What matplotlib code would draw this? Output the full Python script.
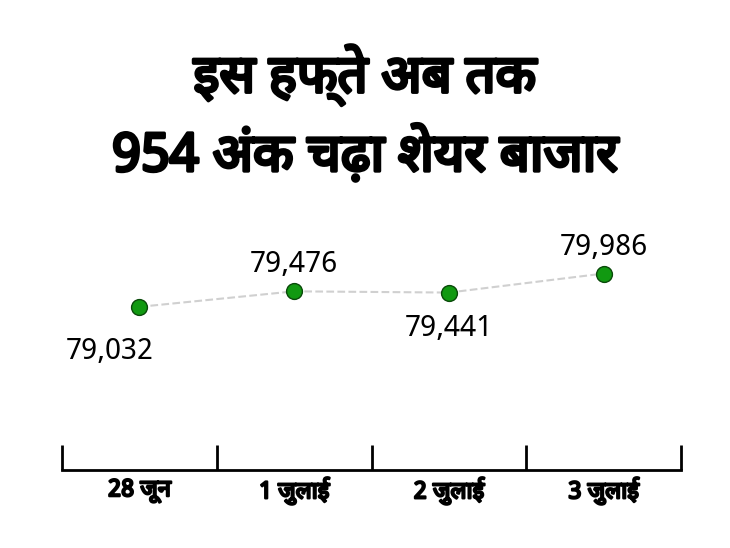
import matplotlib
matplotlib.use("Agg")
import matplotlib.pyplot as plt
import matplotlib.patheffects as pe

plt.rcParams['font.family'] = ['Noto Sans Devanagari', 'Lohit Devanagari', 'Noto Sans', 'DejaVu Sans']

title_lines = ["इस हफ्ते अब तक", "954 अंक चढ़ा शेयर बाजार"]
days = ["28 जून", "1 जुलाई", "2 जुलाई", "3 जुलाई"]
values = [79032, 79476, 79441, 79986]
labels = ["79,032", "79,476", "79,441", "79,986"]
label_above = [False, True, False, True]

bold = [pe.withStroke(linewidth=1.6, foreground='black')]

fig = plt.figure(figsize=(7.3, 5.48), dpi=100)
fig.text(0.5, 1 - 75 / 548, title_lines[0], ha='center', va='center', fontsize=38,
         path_effects=[pe.withStroke(linewidth=2.5, foreground='black')])
fig.text(0.5, 1 - 155 / 548, title_lines[1], ha='center', va='center', fontsize=38,
         path_effects=[pe.withStroke(linewidth=2.5, foreground='black')])

ax = fig.add_axes([0.085, 0.142, 0.848, 0.46])
x = list(range(len(values)))
ax.plot(x, values, color='#d0d0d0', linestyle='--', linewidth=1.5, zorder=1)
ax.scatter(x, values, s=130, color='#119911', edgecolor='#0a4a0a', linewidth=1, zorder=2)

for i, (xi, v, lab, up) in enumerate(zip(x, values, labels, label_above)):
    dx = -21 if i == 0 else 0
    dy = 19 if up else (-32 if i == 0 else -26)
    ax.annotate(lab, (xi, v), xytext=(dx, dy), textcoords='offset points',
                ha='center', va='center', fontsize=21)

ax.set_xlim(-0.5, 3.5)
ax.set_ylim(74350, 81575)
for s in ['top', 'right', 'left']:
    ax.spines[s].set_visible(False)
ax.spines['bottom'].set_linewidth(2)
ax.set_yticks([])
ax.set_xticks([-0.5, 0.5, 1.5, 2.5, 3.5])
ax.set_xticklabels([])
ax.tick_params(axis='x', length=18, width=2, direction='in')
for xi, d in zip(x, days):
    ax.text(xi, -0.08, d, transform=ax.get_xaxis_transform(), ha='center',
            va='center', fontsize=17, path_effects=bold)

fig.savefig('out.png', dpi=100)
